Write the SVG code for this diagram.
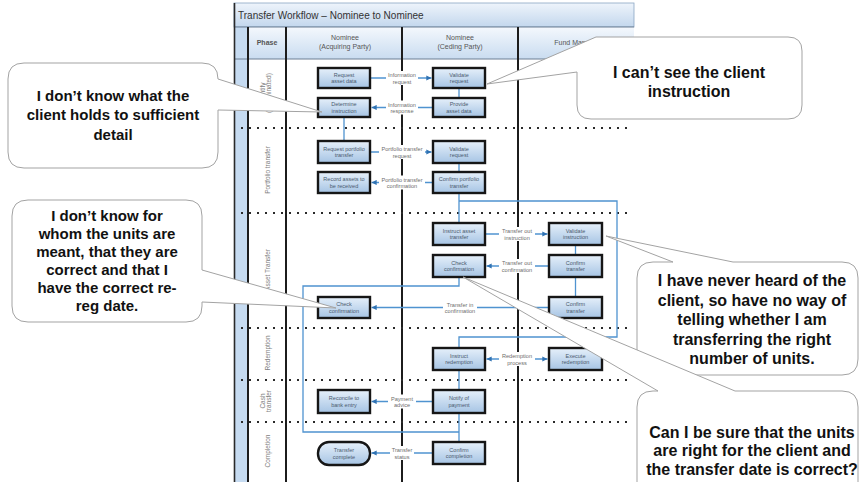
<svg xmlns="http://www.w3.org/2000/svg" width="860" height="482" viewBox="0 0 860 482">
<defs>
  <linearGradient id="gNode" x1="0" y1="0" x2="0" y2="1">
    <stop offset="0" stop-color="#e6f0fa"/>
    <stop offset="1" stop-color="#a6c4e4"/>
  </linearGradient>
  <linearGradient id="gHead" x1="0" y1="0" x2="0" y2="1">
    <stop offset="0" stop-color="#f4f8fd"/>
    <stop offset="1" stop-color="#c9dcf0"/>
  </linearGradient>
  <linearGradient id="gTitle" x1="0" y1="0" x2="0" y2="1">
    <stop offset="0" stop-color="#eef4fb"/>
    <stop offset="1" stop-color="#c3d7ed"/>
  </linearGradient>
  <marker id="ah" viewBox="0 0 6 6" refX="6" refY="3" markerWidth="4" markerHeight="4" orient="auto-start-reverse">
    <path d="M0,0 L6,3 L0,6 z" fill="#2f72b3"/>
  </marker>
</defs>
<style>
  .nd rect { fill: url(#gNode); stroke: #161616; stroke-width: 2.4; }
  .nt { font-family: "Liberation Sans", Arial, sans-serif; font-size: 5.5px; fill: #4a5a6e; text-anchor: middle; }
  .lb { font-family: "Liberation Sans", Arial, sans-serif; font-size: 5.6px; fill: #6e6e6e; text-anchor: middle; }
  .lbg { fill: #ffffff; }
  .cn { fill: none; stroke: #4f93d0; stroke-width: 1.3; }
  .col { stroke: #1c1c1c; stroke-width: 2; }
  .dot { stroke: #2a2a2a; stroke-width: 2; stroke-dasharray: 2 6; }
  .ph { font-family: "Liberation Sans", Arial, sans-serif; font-size: 6.5px; fill: #7e7e7e; text-anchor: middle; }
  .hd { font-family: "Liberation Sans", Arial, sans-serif; font-size: 7px; fill: #555555; text-anchor: middle; }
  .co path { fill: #ffffff; stroke: #a3a3a3; stroke-width: 1; }
  .ct { font-family: "Liberation Sans", Arial, sans-serif; font-weight: bold; font-size: 16px; fill: #111111; text-anchor: middle; }
  .ct2 { font-family: "Liberation Sans", Arial, sans-serif; font-weight: bold; font-size: 15px; fill: #111111; text-anchor: middle; }
</style>

<!-- Frame -->
<g id="frame">
  <rect x="234" y="3" width="400" height="24" fill="url(#gTitle)" stroke="#8aa6c4" stroke-width="0.8"/>
  <text x="238" y="18.5" font-family="Liberation Sans, Arial, sans-serif" font-size="10" fill="#333333">Transfer Workflow – Nominee to Nominee</text>
  <rect x="234" y="27" width="400" height="32" fill="url(#gHead)"/>
  <rect x="235" y="27" width="13" height="455" fill="#c6dbf1"/>
  <line x1="234" y1="59" x2="634" y2="59" stroke="#6d7f93" stroke-width="1"/>
  <line x1="234" y1="27" x2="634" y2="27" stroke="#6d7f93" stroke-width="1"/>
  <line x1="234.5" y1="3" x2="234.5" y2="482" stroke="#2a2a2a" stroke-width="1.6"/>
  <line x1="248" y1="27" x2="248" y2="482" stroke="#1c1c1c" stroke-width="2"/>
  <line class="col" x1="286" y1="27" x2="286" y2="482"/>
  <line class="col" x1="402" y1="27" x2="402" y2="482"/>
  <line class="col" x1="518" y1="27" x2="518" y2="482"/>
  <text class="hd" x="267" y="45" font-weight="bold">Phase</text>
  <text class="hd" x="345" y="40">Nominee</text>
  <text class="hd" x="345" y="49">(Acquiring Party)</text>
  <text class="hd" x="460" y="40">Nominee</text>
  <text class="hd" x="460" y="49">(Ceding Party)</text>
  <text class="hd" x="577" y="45">Fund Manager</text>
  <line class="dot" x1="241" y1="128" x2="630" y2="128"/>
  <line class="dot" x1="241" y1="213" x2="630" y2="213"/>
  <line class="dot" x1="241" y1="328" x2="630" y2="328"/>
  <line class="dot" x1="241" y1="380" x2="630" y2="380"/>
  <line class="dot" x1="241" y1="422" x2="630" y2="422"/>
  <text class="ph" transform="translate(264.5,93) rotate(-90)">Identify</text>
  <text class="ph" transform="translate(270.5,93) rotate(-90)">(if nominated)</text>
  <text class="ph" transform="translate(269.5,170) rotate(-90)">Portfolio transfer</text>
  <text class="ph" transform="translate(269.5,270) rotate(-90)">Asset Transfer</text>
  <text class="ph" transform="translate(269.5,353) rotate(-90)">Redemption</text>
  <text class="ph" transform="translate(264.5,401) rotate(-90)">Cash</text>
  <text class="ph" transform="translate(270.5,401) rotate(-90)">transfer</text>
  <text class="ph" transform="translate(269.5,451) rotate(-90)">Completion</text>
</g>

<!-- Connectors -->
<g id="connectors">
  <path class="cn" d="M371,78 H431.5" marker-end="url(#ah)"/>
  <path class="cn" d="M432,107.5 H371.5" marker-end="url(#ah)"/>
  <path class="cn" d="M459,88 V98"/>
  <path class="cn" d="M344,117 V141"/>
  <path class="cn" d="M371,152 H431.5" marker-end="url(#ah)"/>
  <path class="cn" d="M459,163 V172"/>
  <path class="cn" d="M432,182.5 H371.5" marker-end="url(#ah)"/>
  <path class="cn" d="M459,193 V223"/>
  <path class="cn" d="M459,201 H617 V337 H459 V348"/>
  <path class="cn" d="M486,234 H547.5" marker-end="url(#ah)"/>
  <path class="cn" d="M575.5,245 V255"/>
  <path class="cn" d="M548,266 H486.5" marker-end="url(#ah)"/>
  <path class="cn" d="M575.5,277 V297"/>
  <path class="cn" d="M548,307.5 H371.5" marker-end="url(#ah)"/>
  <path class="cn" d="M459,277 V286 H303 V432 H459"/>
  <path class="cn" d="M459,370 V390"/>
  <path class="cn" d="M459,413 V442"/>
  <path class="cn" d="M486.5,359 H547.5" marker-start="url(#ah)" marker-end="url(#ah)"/>
  <path class="cn" d="M432,401.5 H371.5" marker-end="url(#ah)"/>
  <path class="cn" d="M432,453 H371.5" marker-end="url(#ah)"/>

  <rect class="lbg" x="386" y="71" width="32" height="14"/>
  <text class="lb" x="402" y="77">Information</text><text class="lb" x="402" y="83.5">request</text>
  <rect class="lbg" x="386" y="100.5" width="32" height="14"/>
  <text class="lb" x="402" y="106.5">Information</text><text class="lb" x="402" y="113">response</text>
  <rect class="lbg" x="379" y="145" width="46" height="14"/>
  <text class="lb" x="402" y="151">Portfolio transfer</text><text class="lb" x="402" y="157.5">request</text>
  <rect class="lbg" x="379" y="175.5" width="46" height="14"/>
  <text class="lb" x="402" y="181.5">Portfolio transfer</text><text class="lb" x="402" y="188">confirmation</text>
  <rect class="lbg" x="499" y="227" width="36" height="14"/>
  <text class="lb" x="517" y="233">Transfer out</text><text class="lb" x="517" y="239.5">instruction</text>
  <rect class="lbg" x="499" y="259" width="36" height="14"/>
  <text class="lb" x="517" y="265">Transfer out</text><text class="lb" x="517" y="271.5">confirmation</text>
  <rect class="lbg" x="443" y="300.5" width="34" height="14"/>
  <text class="lb" x="460" y="306.5">Transfer in</text><text class="lb" x="460" y="313">confirmation</text>
  <rect class="lbg" x="499" y="352" width="36" height="14"/>
  <text class="lb" x="517" y="358">Redemption</text><text class="lb" x="517" y="364.5">process</text>
  <rect class="lbg" x="388" y="394.5" width="28" height="14"/>
  <text class="lb" x="402" y="400.5">Payment</text><text class="lb" x="402" y="407">advice</text>
  <rect class="lbg" x="390" y="446" width="24" height="14"/>
  <text class="lb" x="402" y="452">Transfer</text><text class="lb" x="402" y="458.5">status</text>
</g>

<!-- Nodes -->
<g id="n-request-asset-data" class="nd"><rect x="318" y="68" width="52" height="20"/><text class="nt" x="344" y="76.8">Request</text><text class="nt" x="344" y="83.3">asset data</text></g>
<g id="n-validate-request-1" class="nd"><rect x="433" y="68" width="52" height="20"/><text class="nt" x="459" y="76.8">Validate</text><text class="nt" x="459" y="83.3">request</text></g>
<g id="n-determine-instruction" class="nd"><rect x="318" y="98" width="52" height="19"/><text class="nt" x="344" y="106.3">Determine</text><text class="nt" x="344" y="112.8">instruction</text></g>
<g id="n-provide-asset-data" class="nd"><rect x="433" y="98" width="52" height="19"/><text class="nt" x="459" y="106.3">Provide</text><text class="nt" x="459" y="112.8">asset data</text></g>
<g id="n-request-portfolio-transfer" class="nd"><rect x="318" y="141" width="52" height="22"/><text class="nt" x="344" y="150.8">Request portfolio</text><text class="nt" x="344" y="157.3">transfer</text></g>
<g id="n-validate-request-2" class="nd"><rect x="433" y="141" width="52" height="22"/><text class="nt" x="459" y="150.8">Validate</text><text class="nt" x="459" y="157.3">request</text></g>
<g id="n-record-assets" class="nd"><rect x="318" y="172" width="52" height="21"/><text class="nt" x="344" y="181.3">Record assets to</text><text class="nt" x="344" y="187.8">be received</text></g>
<g id="n-confirm-portfolio-transfer" class="nd"><rect x="433" y="172" width="52" height="21"/><text class="nt" x="459" y="181.3">Confirm portfolio</text><text class="nt" x="459" y="187.8">transfer</text></g>
<g id="n-instruct-asset-transfer" class="nd"><rect x="433" y="223" width="52" height="22"/><text class="nt" x="459" y="232.8">Instruct asset</text><text class="nt" x="459" y="239.3">transfer</text></g>
<g id="n-validate-instruction" class="nd"><rect x="549" y="223" width="53" height="22"/><text class="nt" x="575.5" y="232.8">Validate</text><text class="nt" x="575.5" y="239.3">instruction</text></g>
<g id="n-check-confirmation-ceding" class="nd"><rect x="433" y="255" width="52" height="22"/><text class="nt" x="459" y="264.8">Check</text><text class="nt" x="459" y="271.3">confirmation</text></g>
<g id="n-confirm-transfer-1" class="nd"><rect x="549" y="255" width="53" height="22"/><text class="nt" x="575.5" y="264.8">Confirm</text><text class="nt" x="575.5" y="271.3">transfer</text></g>
<g id="n-confirm-transfer-2" class="nd"><rect x="549" y="297" width="53" height="21"/><text class="nt" x="575.5" y="306.3">Confirm</text><text class="nt" x="575.5" y="312.8">transfer</text></g>
<g id="n-check-confirmation-acquiring" class="nd"><rect x="318" y="297" width="52" height="21"/><text class="nt" x="344" y="306.3">Check</text><text class="nt" x="344" y="312.8">confirmation</text></g>
<g id="n-instruct-redemption" class="nd"><rect x="433" y="348" width="52" height="22"/><text class="nt" x="459" y="357.8">Instruct</text><text class="nt" x="459" y="364.3">redemption</text></g>
<g id="n-execute-redemption" class="nd"><rect x="549" y="348" width="53" height="22"/><text class="nt" x="575.5" y="357.8">Execute</text><text class="nt" x="575.5" y="364.3">redemption</text></g>
<g id="n-reconcile" class="nd"><rect x="318" y="390" width="52" height="23"/><text class="nt" x="344" y="400.3">Reconcile to</text><text class="nt" x="344" y="406.8">bank entry</text></g>
<g id="n-notify-payment" class="nd"><rect x="433" y="390" width="52" height="23"/><text class="nt" x="459" y="400.3">Notify of</text><text class="nt" x="459" y="406.8">payment</text></g>
<g id="n-transfer-complete" class="nd"><rect x="318" y="442" width="52" height="23" rx="11" ry="11"/><text class="nt" x="344" y="452.3">Transfer</text><text class="nt" x="344" y="458.8">complete</text></g>
<g id="n-confirm-completion" class="nd"><rect x="433" y="442" width="52" height="22"/><text class="nt" x="459" y="451.8">Confirm</text><text class="nt" x="459" y="458.3">completion</text></g>

<!-- Callouts -->
<g id="callout-holdings" class="co">
  <path d="M24,63 H202 Q218,63 218,79 L322,112 L218,110 V152 Q218,168 202,168 H24 Q8,168 8,152 V79 Q8,63 24,63 Z"/>
  <text class="ct2" x="113" y="100.5">I don’t know what the</text>
  <text class="ct2" x="113" y="120">client holds to sufficient</text>
  <text class="ct2" x="113" y="139.5">detail</text>
</g>
<g id="callout-units" class="co">
  <path d="M28,200 H186 Q202,200 202,216 V270 L336,308 L202,302 V306 Q202,322 186,322 H28 Q12,322 12,306 V216 Q12,200 28,200 Z"/>
  <text class="ct2" x="107" y="221">I don’t know for</text>
  <text class="ct2" x="107" y="239">whom the units are</text>
  <text class="ct2" x="107" y="257">meant, that they are</text>
  <text class="ct2" x="107" y="275">correct and that I</text>
  <text class="ct2" x="107" y="293">have the correct re-</text>
  <text class="ct2" x="107" y="311">reg date.</text>
</g>
<g id="callout-instruction" class="co">
  <path d="M596,37 H788 Q802,37 802,51 V105 Q802,119 788,119 H591 Q577,119 577,105 V72 L487,84 Z"/>
  <text class="ct" x="689" y="78">I can’t see the client</text>
  <text class="ct" x="689" y="97">instruction</text>
</g>
<g id="callout-never-heard" class="co">
  <path d="M653,262 H673 L606,236 L733,262 H842 Q858,262 858,278 V359 Q858,375 842,375 H653 Q637,375 637,359 V278 Q637,262 653,262 Z"/>
  <text class="ct" x="752" y="286">I have never heard of the</text>
  <text class="ct" x="752" y="305.5">client, so have no way of</text>
  <text class="ct" x="752" y="325">telling whether I am</text>
  <text class="ct" x="752" y="344.5">transferring the right</text>
  <text class="ct" x="752" y="364">number of units.</text>
</g>
<g id="callout-sure" class="co">
  <path d="M653,391 H658 L463,277 L735,391 H842 Q858,391 858,407 V530 H637 V407 Q637,391 653,391 Z"/>
  <text class="ct" x="752" y="437.5">Can I be sure that the units</text>
  <text class="ct" x="752" y="456">are right for the client and</text>
  <text class="ct" x="752" y="474.5">the transfer date is correct?</text>
</g>
</svg>
